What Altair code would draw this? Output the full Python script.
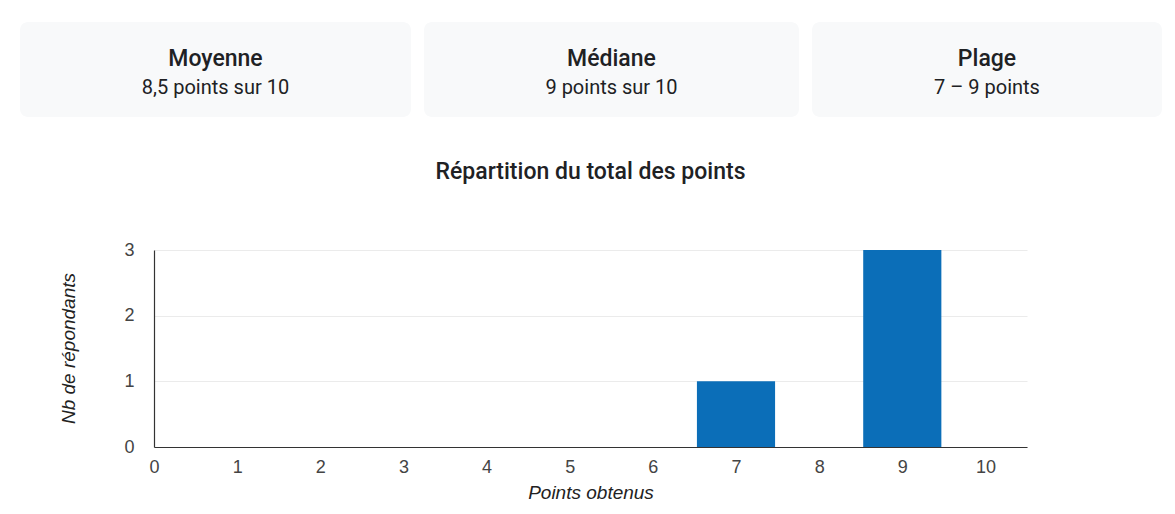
import altair as alt
import pandas as pd

# ---- data ----
card_titles = ["Moyenne", "Médiane", "Plage"]
card_values = ["8,5 points sur 10", "9 points sur 10", "7 – 9 points"]
card_widths = [391, 375, 350]

scores = list(range(11))
counts = [0, 0, 0, 0, 0, 0, 0, 1, 0, 3, 0]
y_ticks = [0, 1, 2, 3]

chart_title = "Répartition du total des points"
x_title = "Points obtenus"
y_title = "Nb de répondants"

FONT = "Roboto"
AXFONT = "Liberation Sans"
TEXT = "#202124"
BAR = "#0b6eb8"


def card(title, value, w):
    df = pd.DataFrame({"t": [title], "v": [value]})
    t = alt.Chart(df).mark_text(font=FONT, fontSize=23, fontWeight=500, color=TEXT,
                                baseline="middle", align="center").encode(
        x=alt.value(w / 2), y=alt.value(37), text="t:N")
    v = alt.Chart(df).mark_text(font=FONT, fontSize=20, color=TEXT,
                                baseline="middle", align="center").encode(
        x=alt.value(w / 2), y=alt.value(66), text="v:N")
    return alt.layer(t, v).properties(
        width=w, height=95,
        view=alt.ViewBackground(fill="#f8f9fa", stroke=None, cornerRadius=8))


cards = alt.hconcat(*[card(t, v, w) for t, v, w in zip(card_titles, card_values, card_widths)],
                    spacing=13)

df = pd.DataFrame({"score": scores, "count": counts})

bars = alt.Chart(df).transform_filter("datum.count > 0").transform_calculate(
    x0="datum.score - 0.47", x1="datum.score + 0.47", base="0"
).mark_bar(color=BAR).encode(
    x=alt.X("x0:Q",
            scale=alt.Scale(domain=[0, 10.5], nice=False, zero=False),
            axis=alt.Axis(values=scores, title=x_title, grid=False, ticks=False, tickSize=0,
                          domainColor="#333333", domainWidth=1.2,
                          labelFont=AXFONT, labelFontSize=18, labelColor="#444444",
                          labelPadding=11, labelFlush=False,
                          titleFont=AXFONT, titleFontSize=19, titleFontStyle="italic",
                          titleFontWeight="normal", titleColor="#222222", titlePadding=7)),
    x2="x1:Q",
    y=alt.Y("count:Q",
            scale=alt.Scale(domain=[0, 3], nice=False),
            axis=alt.Axis(values=y_ticks, title=y_title, ticks=False, tickSize=0,
                          domainColor="#333333", domainWidth=1.2,
                          gridColor="#ebebeb", gridWidth=1,
                          labelFont=AXFONT, labelFontSize=18, labelColor="#444444",
                          labelPadding=20,
                          minExtent=133,
                          titleX=-86, titleY=98, titleAngle=270,
                          titleAlign="center", titleBaseline="middle",
                          titleFont=AXFONT, titleFontSize=19, titleFontStyle="italic",
                          titleFontWeight="normal", titleColor="#222222")),
    y2="base:Q",
).properties(
    width=873, height=197,
    title=alt.TitleParams(chart_title, font=FONT, fontSize=23, fontWeight=500, color=TEXT,
                          anchor="middle", baseline="alphabetic", offset=39),
    view=alt.ViewBackground(stroke=None),
)

spacer = alt.Chart(pd.DataFrame({"a": [0]})).mark_rect(opacity=0).encode(
    x=alt.value(0), x2=alt.value(1), y=alt.value(0), y2=alt.value(1)
).properties(width=1, height=197, view=alt.ViewBackground(stroke=None))

row2 = alt.hconcat(spacer, bars, spacing=0)

chart = alt.vconcat(cards, row2, spacing=44).properties(
    padding={"left": 12, "top": 14, "right": 0, "bottom": 0},
    background="white",
).configure_view(stroke=None)

chart.save("out.html", embed_options={"renderer": "svg", "actions": False})
